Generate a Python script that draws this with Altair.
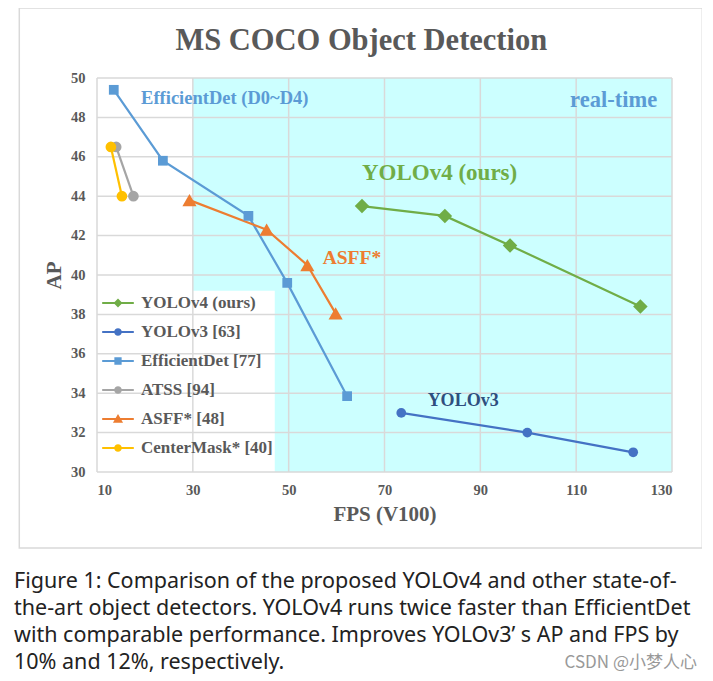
import altair as alt
import pandas as pd

# ---------------- data ----------------
chart_title = "MS COCO Object Detection"
series_names = ["YOLOv4 (ours)", "YOLOv3 [63]", "EfficientDet [77]",
                "ATSS [94]", "ASFF* [48]", "CenterMask* [40]"]
series_colors = ["#70ad47", "#4472c4", "#5b9bd5", "#a5a5a5", "#ed7d31", "#ffc000"]

yolov4_fps = [65.3, 82.6, 96.2, 123.4]
yolov4_ap = [43.5, 43.0, 41.5, 38.4]
yolov3_fps = [73.5, 99.8, 121.9]
yolov3_ap = [33.0, 32.0, 31.0]
effdet_fps = [13.5, 23.75, 41.6, 49.7, 62.2]
effdet_ap = [49.4, 45.8, 43.0, 39.6, 33.85]
atss_fps = [14.0, 17.6]
atss_ap = [46.5, 44.0]
asff_fps = [29.3, 45.4, 53.9, 59.8]
asff_ap = [43.8, 42.3, 40.5, 38.05]
centermask_fps = [12.9, 15.2]
centermask_ap = [46.5, 44.0]

x_ticks = [10, 30, 50, 70, 90, 110, 130]
y_ticks = [30, 32, 34, 36, 38, 40, 42, 44, 46, 48, 50]

realtime_fps = [30, 130]
realtime_ap = [30, 50]
legend_box_fps = [10, 47.1]
legend_box_ap = [30, 39.2]

anno_text = ["EfficientDet (D0~D4)", "real-time", "YOLOv4 (ours)", "ASFF*", "YOLOv3"]
anno_fps = [19.2, 126.9, 65.3, 57.1, 79.0]
anno_ap = [49.0, 48.9, 45.2, 40.85, 33.6]

caption_lines = [
    "Figure 1: Comparison of the proposed YOLOv4 and other state-of-",
    "the-art object detectors. YOLOv4 runs twice faster than EfficientDet",
    "with comparable performance. Improves YOLOv3\u2019 s AP and FPS by",
    "10% and 12%, respectively.",
]
watermark = "CSDN @小梦人心"

# ---------------- tables ----------------
all_fps = [yolov4_fps, yolov3_fps, effdet_fps, atss_fps, asff_fps, centermask_fps]
all_ap = [yolov4_ap, yolov3_ap, effdet_ap, atss_ap, asff_ap, centermask_ap]
rows = []
for name, fl, al in zip(series_names, all_fps, all_ap):
    for i, (f, a) in enumerate(zip(fl, al)):
        rows.append({"series": name, "fps": f, "ap": a, "idx": i})
df = pd.DataFrame(rows)

SERIF = "Liberation Serif"
GRAY = "#595959"
W, H = 575, 394

xscale = alt.Scale(domain=[10, 130], nice=False, zero=False)
yscale = alt.Scale(domain=[30, 50], nice=False, zero=False)
color_scale = alt.Scale(domain=series_names, range=series_colors)

X_AX = alt.Axis(
    title="FPS (V100)", values=x_ticks, grid=False, domain=False, ticks=False,
    labelOverlap=False,
    labelFont=SERIF, labelFontWeight="bold", labelFontSize=14.5, labelColor=GRAY,
    labelPadding=11, titleFont=SERIF, titleFontWeight="bold", titleFontSize=21,
    titleColor=GRAY, titlePadding=7)
Y_AX = alt.Axis(
    title="AP", values=y_ticks, grid=False, domain=False, ticks=False,
    labelOverlap=False,
    labelFont=SERIF, labelFontWeight="bold", labelFontSize=14.5, labelColor=GRAY,
    labelPadding=12, titleFont=SERIF, titleFontWeight="bold", titleFontSize=21,
    titleColor=GRAY, titlePadding=6)


def X(f):
    return alt.X(f, scale=xscale, axis=X_AX)


def Y(f):
    return alt.Y(f, scale=yscale, axis=Y_AX)


# outer frame
frame = alt.Chart(pd.DataFrame({"k": [0]})).mark_rect(
    filled=False, stroke="#d9d9d9", strokeWidth=1.5
).encode(x=alt.value(-77.7), x2=alt.value(605.3), y=alt.value(-70), y2=alt.value(470))

title_mark = alt.Chart(pd.DataFrame({"t": [chart_title]})).mark_text(
    font=SERIF, fontWeight="bold", fontSize=30.5, color=GRAY, align="center",
    baseline="middle").encode(x=alt.value(264.3), y=alt.value(-37), text="t:N")

rt_df = pd.DataFrame({"x": [realtime_fps[0]], "x2": [realtime_fps[1]],
                      "y": [realtime_ap[0]], "y2": [realtime_ap[1]]})
realtime = alt.Chart(rt_df).mark_rect(fill="#ccffff").encode(
    x=X("x:Q"), x2="x2:Q", y=Y("y:Q"), y2="y2:Q")

lb_df = pd.DataFrame({"x": [legend_box_fps[0]], "x2": [legend_box_fps[1]],
                      "y": [legend_box_ap[0]], "y2": [legend_box_ap[1]]})
legend_box = alt.Chart(lb_df).mark_rect(fill="white").encode(
    x=X("x:Q"), x2="x2:Q", y=Y("y:Q"), y2="y2:Q")

vgrid = alt.Chart(pd.DataFrame({"v": x_ticks})).mark_rule(
    color="#d9d9d9", strokeWidth=1.5).encode(x=X("v:Q"))
hgrid = alt.Chart(pd.DataFrame({"v": y_ticks})).mark_rule(
    color="#d9d9d9", strokeWidth=1.5).encode(y=Y("v:Q"))

lines = alt.Chart(df).mark_line(strokeWidth=2.2).encode(
    x=X("fps:Q"), y=Y("ap:Q"),
    color=alt.Color("series:N", scale=color_scale),
    detail="series:N",
    order="idx:Q",
)

marker_shape = ["diamond", "circle", "square", "circle", "triangle-up", "circle"]
marker_size = [210, 95, 95, 115, 200, 115]
point_layers = []
for name, shp, sz in zip(series_names, marker_shape, marker_size):
    point_layers.append(
        alt.Chart(df).transform_filter(alt.datum.series == name).mark_point(
            shape=shp, size=sz, filled=True, opacity=1).encode(
            x=X("fps:Q"), y=Y("ap:Q"),
            color=alt.Color("series:N", scale=color_scale),
        )
    )

# legend symbols: line + marker
bar = "M-1,-0.065H1V0.065H-1Z"
circ = "M0.24,0A0.24,0.24 0 1,1 -0.24,0A0.24,0.24 0 1,1 0.24,0Z"
legend_paths = [
    bar + "M0,-0.28L0.28,0L0,0.28L-0.28,0Z",
    bar + circ,
    bar + "M-0.23,-0.23H0.23V0.23H-0.23Z",
    bar + circ,
    bar + "M0,-0.32L0.32,0.23H-0.32Z",
    bar + circ,
]
leg = alt.Legend(
    title=None, orient="none", legendX=5, legendY=209, zindex=2,
    labelFont=SERIF, labelFontWeight="bold", labelFontSize=17, labelColor=GRAY,
    symbolSize=1000, symbolStrokeWidth=0, rowPadding=5, labelOffset=7,
    labelLimit=300, symbolOpacity=1)
legend_layer = alt.Chart(df).transform_filter("false").mark_point(filled=True, opacity=1).encode(
    x=X("fps:Q"), y=Y("ap:Q"),
    color=alt.Color("series:N", scale=color_scale, legend=leg),
    shape=alt.Shape("series:N", scale=alt.Scale(domain=series_names, range=legend_paths),
                    legend=leg),
)

anno_df = pd.DataFrame({"text": anno_text, "fps": anno_fps, "ap": anno_ap})
anno_colors = ["#5b9bd5", "#5b9bd5", "#70ad47", "#ed7d31", "#2f4e7e"]
anno_sizes = [18.5, 22.5, 23, 19.5, 18]
anno_align = ["left", "right", "left", "left", "left"]
anno_layers = []
for t, c, s, a in zip(anno_text, anno_colors, anno_sizes, anno_align):
    anno_layers.append(
        alt.Chart(anno_df).transform_filter(alt.datum.text == t).mark_text(
            font=SERIF, fontWeight="bold", fontSize=s, color=c, align=a,
            baseline="middle").encode(
            x=X("fps:Q"), y=Y("ap:Q"), text="text:N")
    )

cap = alt.Chart(pd.DataFrame({"t": ["\n".join(caption_lines)]})).mark_text(
    font="Noto Sans", fontSize=21.5, color="#222222", align="left",
    baseline="middle", lineBreak="\n", lineHeight=27
).encode(x=alt.value(-83), y=alt.value(504), text="t:N")

wm = alt.Chart(pd.DataFrame({"t": [watermark]})).mark_text(
    font="Noto Sans CJK SC", fontSize=17, color="#999999", align="right",
    baseline="middle").encode(x=alt.value(600), y=alt.value(585), text="t:N")

chart = alt.layer(
    frame, title_mark, realtime, legend_box, vgrid, hgrid, lines, *point_layers,
    *anno_layers, legend_layer, cap, wm
).properties(
    width=W, height=H,
    autosize=alt.AutoSizeParams(type="none"),
    padding={"left": 89, "top": 70, "right": 30, "bottom": 205},
).configure_view(stroke=None)

chart.save("out.html", embed_options={"renderer": "svg", "actions": False})
